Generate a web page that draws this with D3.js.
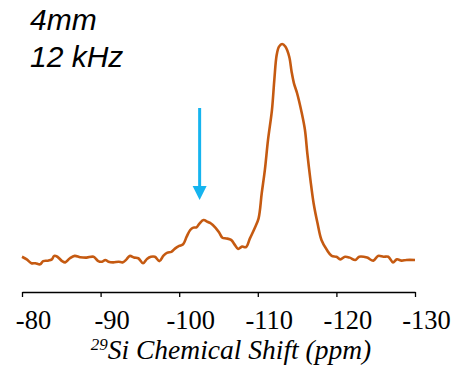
<!DOCTYPE html>
<html>
<head>
<meta charset="utf-8">
<script src="https://cdn.jsdelivr.net/npm/d3@7"></script>
<style>
  body { margin: 0; background: #fff; }
  svg { display: block; }
</style>
</head>
<body>
<div id="chart"></div>
<script>
// spectrum trace (ppm, relative intensity)
var shift = [-80.0, -80.6, -81.2, -81.7, -82.3, -82.7, -83.3, -83.8, -84.1, -84.5,
    -85.1, -85.5, -86.1, -86.7, -87.4, -88.2, -89.1, -89.7, -90.2, -90.6,
    -91.0, -91.6, -92.3, -92.8, -93.3, -93.7, -94.3, -94.8, -95.4, -95.9,
    -96.4, -96.9, -97.5, -98.0, -98.5, -99.0, -99.5, -100.0, -100.5, -100.95,
    -101.4, -101.8, -102.2, -102.6, -103.1, -103.6, -104.0, -104.6, -105.1, -105.5,
    -106.0, -106.6, -107.1, -107.5, -108.0, -108.5, -109.0, -109.6, -110.1, -110.5,
    -110.9, -111.3, -111.8, -112.1, -112.4, -112.7, -113.1, -113.5, -114.0, -114.3,
    -114.6, -115.0, -115.6, -116.0, -116.3, -116.7, -117.1, -117.6, -118.1, -118.8,
    -119.4, -120.0, -120.5, -121.1, -121.7, -122.4, -122.9, -123.9, -124.7, -125.3,
    -126.0, -126.6, -127.2, -127.7, -128.3, -128.9, -130.0];
var intensity = [1.5, 0.3, -1.5, -1.5, -2.0, -0.5, -0.3, 0.3, 1.9, 1.5,
    -0.5, -1.1, 0.8, 1.9, 1.3, 1.1, 1.5, -0.5, -0.8, 0.0,
    -0.8, -1.1, -0.8, -1.1, 0.3, 1.9, 1.1, 0.8, -1.5, 0.5,
    1.5, 1.5, -0.5, 2.0, 3.4, 3.8, 5.4, 6.5, 7.3, 10.8,
    13.9, 15.0, 15.1, 17.0, 18.5, 17.7, 17.0, 15.0, 12.6, 10.3,
    10.0, 9.3, 6.9, 5.1, 6.2, 6.0, 10.0, 14.7, 19.3, 30.9,
    41.7, 55.6, 69.4, 83.3, 94.9, 98.8, 100, 98.8, 94.1, 87.2,
    81.8, 77.2, 67.9, 60.2, 49.4, 37.0, 26.3, 17.0, 9.3, 4.6,
    1.9, 1.5, 0.3, 1.5, 1.1, 0.0, 1.5, 1.1, -0.3, 1.9,
    1.5, 1.5, -1.1, 0.3, -0.3, 0.0, 0.0];
var xTicks = [-80, -90, -100, -110, -120, -130];
var labels = ["4mm", "12 kHz"];
var arrowAt = -102.6;

var width = 459, height = 373;
var serif = "'Liberation Serif', 'Times New Roman', Times, serif";

var svg = d3.select("#chart").append("svg")
    .attr("width", width)
    .attr("height", height);

var x = d3.scaleLinear().domain([-80, -130]).range([22, 415]);
var y = d3.scaleLinear().domain([0, 100]).range([260, 44]);

// axis along the bottom, ticks hanging down
var axis = svg.append("g")
    .attr("transform", "translate(0,292)")
    .attr("font-family", serif)
    .call(d3.axisBottom(x).tickValues(xTicks).tickSize(5).tickSizeOuter(0)
        .tickFormat(function(d) { return d; }));
axis.select(".domain").attr("stroke", "#000").attr("stroke-width", 1.3);
axis.selectAll(".tick line").attr("stroke", "#000").attr("stroke-width", 1.3);
axis.selectAll(".tick text")
    .attr("y", 37)
    .attr("dy", 0)
    .attr("dx", 11)
    .attr("fill", "#000")
    .style("font-family", serif)
    .style("font-size", "26.5px");

var title = svg.append("text")
    .attr("x", 231)
    .attr("y", 359)
    .attr("text-anchor", "middle")
    .style("font-family", serif)
    .style("font-style", "italic")
    .style("font-size", "27.5px")
    .attr("fill", "#000");
title.append("tspan").text("29")
    .attr("dy", -9)
    .style("font-size", "17px");
title.append("tspan").text("Si Chemical Shift (ppm)")
    .attr("dy", 9);

// spectrum
var pts = shift.map(function(d, i) { return [d, intensity[i]]; });
var line = d3.line()
    .x(function(d) { return x(d[0]); })
    .y(function(d) { return y(d[1]); })
    .curve(d3.curveCatmullRom);

svg.append("path")
    .datum(pts)
    .attr("d", line)
    .attr("fill", "none")
    .attr("stroke", "#C55A11")
    .attr("stroke-width", 2.6)
    .attr("stroke-linejoin", "round");

// arrow marking the shoulder
var ax = x(arrowAt);
svg.append("line")
    .attr("x1", ax).attr("x2", ax)
    .attr("y1", 108).attr("y2", 188)
    .attr("stroke", "#15B4EF")
    .attr("stroke-width", 3);
svg.append("path")
    .attr("d", "M" + (ax - 7) + ",186L" + (ax + 7) + ",186L" + ax + ",200Z")
    .attr("fill", "#15B4EF");

// probe / spinning labels
svg.selectAll("text.lab")
    .data(labels)
    .enter().append("text")
    .attr("class", "lab")
    .attr("x", 30)
    .attr("y", function(d, i) { return 30 + i * 37; })
    .style("font-family", "'Liberation Sans', Arial, sans-serif")
    .style("font-style", "italic")
    .style("font-size", "30px")
    .attr("fill", "#000")
    .text(function(d) { return d; });
</script>
</body>
</html>
